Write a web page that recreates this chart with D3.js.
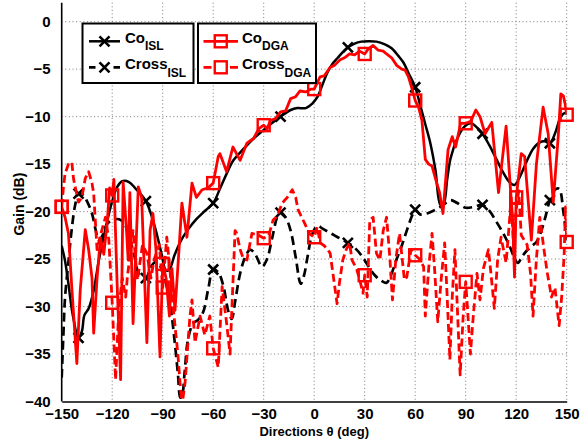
<!DOCTYPE html>
<html><head><meta charset="utf-8">
<script src="https://cdn.jsdelivr.net/npm/d3@7"></script>
<style>
body{margin:0;background:#fff}
svg{display:block}
text{font-family:"Liberation Sans",Arial,sans-serif;font-weight:bold;fill:#000}
</style>
</head><body>
<svg id="c" width="581" height="442"></svg>
<script>
// ---------- data ----------
const xTicks = [-150,-120,-90,-60,-30,0,30,60,90,120,150];
const yTicks = [0,-5,-10,-15,-20,-25,-30,-35,-40];
const islMarkerTheta = [-140,-100,-60,-20,20,60,100,140];
const dgaMarkerTheta = [-150,-120,-90,-60,-30,0,30,60,90,120,150];

const coISL = [[-150,-23.6],[-148,-25.2],[-146,-27.6],[-143.5,-30.8],[-140,-33.3],[-138,-32.6],[-136.5,-30.9],[-134,-30.2],[-131,-28.3],[-128,-25.2],[-124,-21.8],[-120,-18.9],[-117,-17.4],[-114,-16.8],[-110,-16.9],[-106,-17.6],[-100,-18.9],[-95,-21.4],[-91,-24.2],[-88,-26.2],[-86,-26.1],[-83,-24.6],[-79,-23],[-75,-21.9],[-70,-20.8],[-66,-20.1],[-60,-19.1],[-56,-17.6],[-52,-16],[-48,-14.6],[-42,-13.4],[-36,-12.3],[-32,-11.7],[-26,-10.8],[-20,-10],[-14,-9.3],[-10,-9.1],[-5,-9.1],[-1,-8.6],[2,-7.9],[5,-6.6],[8,-5.3],[11,-4.4],[14,-3.8],[17,-3.2],[20,-2.7],[24,-2.3],[28,-2.1],[32,-2.05],[37,-2.1],[42,-2.4],[46,-2.8],[50,-3.6],[53,-4.3],[56,-5.4],[60,-6.9],[63,-8.8],[66,-10.8],[69,-12.8],[72,-15.6],[75,-19.3],[77,-19.1],[79,-16.6],[81,-14.4],[85,-12.3],[89,-11.1],[93,-10.7],[97,-11.2],[100,-11.8],[104,-13],[108,-14.4],[112,-15.8],[116,-16.9],[119,-17.2],[122,-16.4],[126,-14.8],[130,-13.4],[134,-12.7],[137,-12.6],[140,-12.8],[143,-11.8],[146,-10.2],[148,-9.7],[150,-9.6]];

const crossISL = [[-150,-37.5],[-149,-33],[-148,-29],[-146,-25.3],[-144,-21.8],[-142,-19.3],[-140,-18.1],[-137,-18.3],[-135,-18.9],[-132,-20.2],[-130,-21.8],[-128,-23],[-126,-22.6],[-123,-21.3],[-120,-20.9],[-116,-20.8],[-113,-21.2],[-110,-22.6],[-107,-24.5],[-104,-26.6],[-100,-27],[-97,-25.8],[-94,-25.3],[-91,-25.9],[-88,-27.6],[-85,-30.5],[-83,-33.5],[-81,-37],[-79.5,-39.6],[-78.5,-39.4],[-77,-37],[-75,-33.5],[-72,-31.8],[-69,-31.4],[-66,-30.6],[-63,-28.2],[-60,-26.1],[-57,-26.4],[-54,-27.8],[-51,-30.5],[-49,-31.3],[-47,-29.5],[-44,-26.5],[-41,-24.8],[-38,-24],[-35,-24.5],[-31,-25.8],[-28,-25],[-25,-22.8],[-22,-20.6],[-20,-20.1],[-17,-20.6],[-14,-22],[-11,-24.8],[-8,-27.6],[-6,-26.7],[-4,-24.8],[-1,-22.3],[2,-21.5],[5,-21.8],[8,-22.1],[12,-22.5],[16,-22.9],[20,-23.3],[24,-23.8],[28,-24.6],[32,-25.7],[36,-26.7],[40,-27.3],[43,-27.5],[46,-26.5],[49,-25],[52,-23.6],[55,-22],[58,-20.5],[60,-19.8],[63,-20.3],[67,-20.2],[71,-19.9],[75,-19.5],[78,-19.1],[81,-18.8],[85,-19.1],[90,-19.6],[95,-19.5],[100,-19.3],[104,-19.9],[108,-21],[112,-22.2],[116,-23.6],[119,-24.9],[121,-25.4],[124,-24.6],[128,-23.8],[132,-23.2],[134,-22.5],[137,-20.8],[140,-18.8],[143,-17.7],[145.5,-17.6],[148,-20],[150,-23]];

const coDGA = [[-150,-19.5],[-148,-20.6],[-146,-22.3],[-144,-28],[-141,-36],[-139,-28.3],[-136,-21.9],[-134,-24],[-132,-27],[-131,-32.8],[-129,-27],[-127,-22.8],[-125,-24.5],[-123,-21.2],[-121.5,-17.5],[-120,-18.3],[-119,-16.6],[-117,-28],[-115,-37.7],[-113.5,-16.9],[-111.5,-22],[-110.5,-25.1],[-109.5,-18],[-107.6,-31.8],[-104.5,-17.4],[-102.5,-18.5],[-99.4,-33.8],[-97.5,-22],[-95.8,-20.2],[-94,-24],[-91.6,-35.3],[-90,-25.5],[-88,-27],[-86,-31],[-84.5,-26],[-82.7,-30.4],[-80.5,-24.5],[-78.6,-19.1],[-75.6,-22.7],[-72.6,-17],[-70,-18.5],[-66.6,-17.7],[-63,-17.5],[-60,-17],[-57,-14.2],[-56,-13.9],[-52,-15.8],[-48.3,-13.2],[-44,-14.6],[-40,-12.8],[-36,-12.3],[-33,-11.3],[-30,-10.9],[-28,-11.3],[-26,-10.4],[-23,-10.2],[-20,-9.5],[-17,-9.4],[-14,-8.1],[-11,-7.9],[-8.5,-7.3],[-5,-7.4],[-2,-7.1],[0,-7.1],[3.5,-5.8],[6,-5.7],[9.5,-4.8],[12,-4.6],[15.4,-4.0],[18,-3.8],[21,-3.4],[24,-3.5],[27,-3.1],[30,-3.4],[32,-2.9],[35,-2.5],[38,-3.0],[41,-3.1],[43,-3.4],[46,-3.8],[49,-4.6],[52,-5.0],[54,-5.1],[56,-5.8],[58,-7.0],[60,-8.3],[62,-9.0],[64,-10.4],[66,-14.5],[68,-15],[70,-15.2],[72,-16.5],[74.5,-18],[76.5,-20.2],[79.5,-13.5],[82,-12.1],[84,-13.2],[87,-10.7],[90,-10.7],[93,-10.5],[96,-9.3],[98.5,-10],[101.5,-11.8],[105.5,-10.6],[109.5,-18],[114,-11],[118,-21.2],[119,-26.9],[120,-18.5],[121,-17],[123,-13.9],[125,-14.2],[129,-23],[132,-15],[136,-9],[139,-11.8],[142,-19],[145,-12],[146.5,-7.6],[148,-7.8],[149,-8.6],[150,-9.8]];

const crossDGA = [[-150,-19.5],[-149,-17.5],[-148,-16],[-146,-15],[-144,-14.8],[-143,-16.5],[-142,-17.4],[-140,-19],[-138,-18.5],[-136,-16.5],[-134,-15.8],[-132,-17],[-131,-18.1],[-129,-24],[-127,-22.5],[-124,-20.6],[-122,-23],[-120,-29.6],[-118,-37.7],[-116,-30],[-114,-27],[-112,-29],[-111,-26.9],[-109,-24],[-107.6,-22],[-105,-27.2],[-102,-23.5],[-99.4,-24.4],[-97,-27],[-95,-25],[-92,-23.5],[-90,-28],[-87.6,-22.7],[-86,-25.5],[-84,-29.7],[-81,-35],[-78.6,-40.5],[-76.7,-38],[-75.6,-35.3],[-73.8,-31],[-72.6,-29.3],[-70.8,-33.8],[-67.8,-31],[-65,-33],[-62,-31],[-60,-34.4],[-57,-36.4],[-54.7,-27.9],[-52,-31.8],[-50,-35],[-47,-22],[-46,-22.3],[-44,-24],[-42,-25],[-40,-25.1],[-37,-22.3],[-33,-22.5],[-30,-22.8],[-27,-22.5],[-24.4,-20.9],[-22,-20.5],[-19,-19.1],[-16,-18.5],[-13,-17.7],[-11,-18.5],[-9.6,-19.8],[-5.5,-21.3],[-3,-22.3],[0,-22.7],[1.8,-21.6],[3.5,-23.3],[6,-23.6],[8,-24],[9.5,-24.4],[11.5,-27],[13.6,-29.7],[15,-27.5],[17,-25.1],[19,-24],[21,-23.3],[22.5,-25.1],[25.3,-26.1],[27.5,-27.5],[29,-28.6],[30,-26.7],[31.5,-29],[33,-20.9],[35,-20.6],[37,-24.4],[39,-25.1],[41,-22],[43,-20.6],[45,-25],[46.5,-29.3],[48.5,-25],[50.7,-22.3],[53.6,-27.2],[55,-26.9],[57.5,-24],[60,-24.6],[62.5,-25],[65,-25.8],[66,-31],[68,-26],[70,-22.3],[71.5,-26],[73.4,-31.6],[75.5,-27],[77.5,-23.3],[79,-29],[80.6,-35.6],[82,-29],[83.6,-24],[85,-30],[86.7,-37.2],[88.5,-31],[90,-27.4],[91,-30],[92.8,-35],[94.5,-31],[96.7,-26.5],[98.5,-29.3],[100.5,-26],[103.5,-24],[105,-26.5],[107,-30.2],[109,-25],[111,-22.7],[114,-25.4],[116,-21],[117,-18.5],[118.5,-24],[120,-19.8],[121.5,-17.8],[123,-22.5],[126.5,-23.5],[128.5,-26.5],[130,-31],[132,-25],[134,-20.6],[136.5,-24],[138.5,-26.5],[141,-29],[143,-28],[145.5,-32],[147,-29],[148.5,-24.5],[149.3,-19.5],[150,-23.2]];

// ---------- chart ----------
const svg = d3.select("#c");
const x = d3.scaleLinear().domain([-150,150]).range([61.7,566.7]);
const y = d3.scaleLinear().domain([-40,2]).range([401.5,2.7]);

svg.append("rect").attr("width",581).attr("height",442).attr("fill","#fff");

// grid
const grid = svg.append("g").attr("stroke","#7a7a7a").attr("stroke-width",1).attr("stroke-dasharray","1,2.6");
grid.selectAll("line.v").data(xTicks.filter(t=>t>-150)).join("line")
  .attr("x1",d=>x(d)).attr("x2",d=>x(d)).attr("y1",y(2)).attr("y2",y(-40));
grid.selectAll("line.h").data(yTicks.filter(t=>t>-40)).join("line")
  .attr("x1",x(-150)).attr("x2",x(150)).attr("y1",d=>y(d)).attr("y2",d=>y(d));

// axes
const xAxis = d3.axisBottom(x).tickValues(xTicks).tickSize(0).tickPadding(7);
const yAxis = d3.axisLeft(y).tickValues(yTicks).tickSize(0).tickPadding(11);
const gx = svg.append("g").attr("transform",`translate(0,${y(-40)})`).call(xAxis);
const gy = svg.append("g").attr("transform",`translate(${x(-150)},0)`).call(yAxis);
[gx,gy].forEach(g=>{
  g.select(".domain").attr("stroke","#000").attr("stroke-width",1.6);
  g.selectAll("text").attr("font-size",15).attr("font-family","Liberation Sans, Arial, sans-serif").attr("font-weight","bold").attr("fill","#000");
});
gy.select(".domain").attr("d",`M0,${y(2)}V${y(-40)}`);

// labels
svg.append("text").attr("x",(x(-150)+x(150))/2).attr("y",436).attr("text-anchor","middle")
  .attr("font-size",13).text("Directions θ (deg)");
svg.append("text").attr("transform",`translate(24,${(y(2)+y(-40))/2+2}) rotate(-90)`).attr("text-anchor","middle")
  .attr("font-size",14).text("Gain (dB)");

// clip
svg.append("clipPath").attr("id","clip").append("rect")
  .attr("x",x(-150)).attr("y",y(2)).attr("width",x(150)-x(-150)).attr("height",y(-40)-y(2));

const lineSmooth = d3.line().x(d=>x(d[0])).y(d=>y(d[1])).curve(d3.curveCatmullRom.alpha(0.5));
const lineSharp = d3.line().x(d=>x(d[0])).y(d=>y(d[1]));

const series = [
  {data:coISL, color:"#000", dash:null, gen:lineSmooth, w:2.5, marker:"x", mt:islMarkerTheta},
  {data:crossISL, color:"#000", dash:"9,5", gen:lineSmooth, w:2.7, marker:"x", mt:islMarkerTheta},
  {data:coDGA, color:"#ff0000", dash:null, gen:lineSharp, w:2.8, marker:"s", mt:dgaMarkerTheta},
  {data:crossDGA, color:"#ff0000", dash:"8,4", gen:lineSharp, w:2.8, marker:"s", mt:dgaMarkerTheta}
];

function interp(data,t){
  for(let i=0;i<data.length-1;i++){
    const a=data[i],b=data[i+1];
    if(t>=a[0]&&t<=b[0]){const f=(b[0]===a[0])?0:(t-a[0])/(b[0]-a[0]);return a[1]+f*(b[1]-a[1]);}
  }
  return data[data.length-1][1];
}

function drawMarker(g,type,cx,cy,color){
  if(type==="x"){
    const r=5;
    g.append("path").attr("d",`M${cx-r},${cy-r}L${cx+r},${cy+r}M${cx-r},${cy+r}L${cx+r},${cy-r}`)
      .attr("stroke",color).attr("stroke-width",2.6).attr("fill","none");
  } else {
    const s=12;
    g.append("rect").attr("x",cx-s/2).attr("y",cy-s/2).attr("width",s).attr("height",s)
      .attr("stroke",color).attr("stroke-width",2.4).attr("fill","none");
  }
}

const plot = svg.append("g");
series.forEach(s=>{
  plot.append("path").datum(s.data).attr("d",s.gen).attr("clip-path","url(#clip)")
    .attr("fill","none").attr("stroke",s.color).attr("stroke-width",s.w)
    .attr("stroke-dasharray",s.dash).attr("stroke-linejoin","round");
  const mg = plot.append("g");
  s.mt.forEach(t=>drawMarker(mg,s.marker,x(t),y(interp(s.data,t)),s.color));
});

// legend
const legends = [
  {x:82.5,w:111,items:[{s:series[0],main:"Co",sub:"ISL"},{s:series[1],main:"Cross",sub:"ISL"}],lx0:89,lx1:120,tx:125,dash:"6.5,18,6.5"},
  {x:198,w:118,items:[{s:series[2],main:"Co",sub:"DGA"},{s:series[3],main:"Cross",sub:"DGA"}],lx0:203.5,lx1:238,tx:242,dash:"8,18.5,8"}
];
const rowY=[41.3,67.3], baseY=[43.3,69], subY=[50.3,77.3];
legends.forEach(L=>{
  const g=svg.append("g");
  g.append("rect").attr("x",L.x).attr("y",23.5).attr("width",L.w).attr("height",59.5)
    .attr("fill","#fff").attr("stroke","#000").attr("stroke-width",2);
  L.items.forEach((it,i)=>{
    g.append("line").attr("x1",L.lx0).attr("x2",L.lx1).attr("y1",rowY[i]).attr("y2",rowY[i])
      .attr("stroke",it.s.color).attr("stroke-width",it.s.w).attr("stroke-dasharray",i===1?L.dash:null);
    drawMarker(g,it.s.marker,(L.lx0+L.lx1)/2,rowY[i],it.s.color);
    const t=g.append("text").attr("x",L.tx).attr("y",baseY[i]).attr("font-size",15).text(it.main);
    t.append("tspan").attr("font-size",12).attr("dy",subY[i]-baseY[i]).text(it.sub);
  });
});
</script>
</body></html>
